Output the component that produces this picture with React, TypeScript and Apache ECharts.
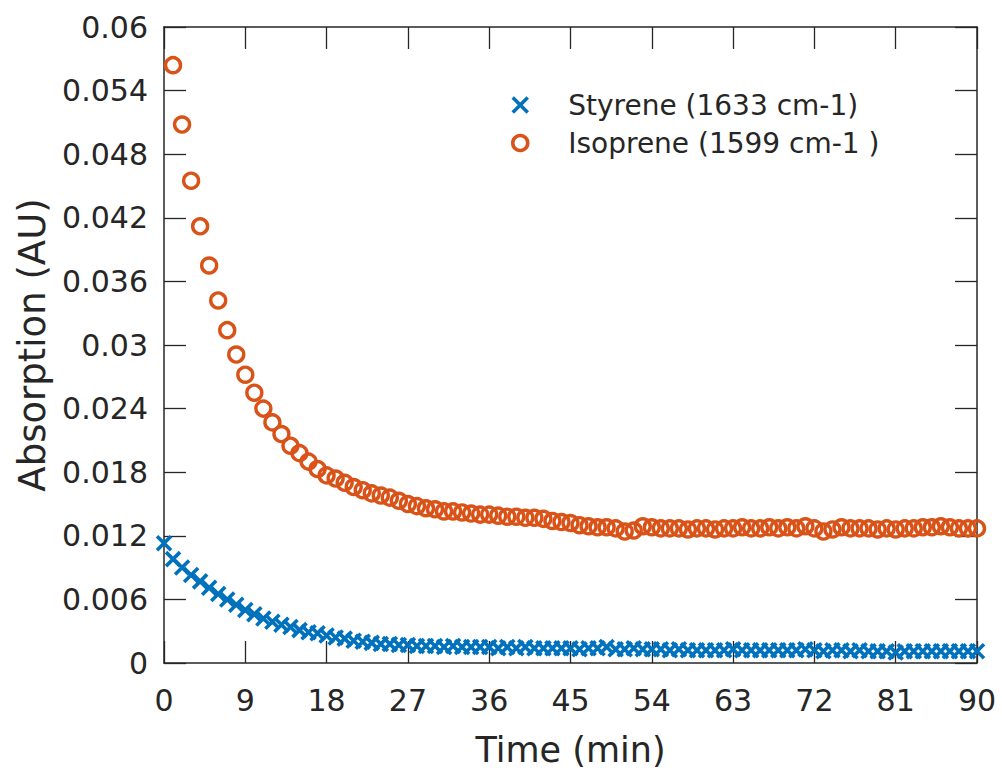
import React, { useEffect, useRef } from "react";
import * as echarts from "echarts";

const time = [
  0, 1, 2, 3, 4, 5, 6, 7, 8, 9, 10, 11, 12, 13, 14, 15, 16, 17, 18, 19, 20,
  21, 22, 23, 24, 25, 26, 27, 28, 29, 30, 31, 32, 33, 34, 35, 36, 37, 38, 39,
  40, 41, 42, 43, 44, 45, 46, 47, 48, 49, 50, 51, 52, 53, 54, 55, 56, 57, 58,
  59, 60, 61, 62, 63, 64, 65, 66, 67, 68, 69, 70, 71, 72, 73, 74, 75, 76, 77,
  78, 79, 80, 81, 82, 83, 84, 85, 86, 87, 88, 89, 90,
];

// Styrene (1633 cm-1), t = 0..90
const styrene = [
  0.0113, 0.0098, 0.009, 0.0083, 0.0077, 0.0071, 0.0065, 0.006, 0.0055, 0.005,
  0.0046, 0.0042, 0.0039, 0.0036, 0.0034, 0.0031, 0.0029, 0.0028, 0.0026,
  0.0024, 0.0023, 0.0021, 0.002, 0.0019, 0.0018, 0.0018, 0.0017, 0.0017,
  0.0016, 0.0016, 0.0016, 0.0015, 0.0016, 0.0015, 0.0015, 0.0015, 0.0015,
  0.0014, 0.0015, 0.0014, 0.0015, 0.0014, 0.0014, 0.0014, 0.0014, 0.0014,
  0.0013, 0.0014, 0.0014, 0.0015, 0.0013, 0.0013, 0.0014, 0.0013, 0.0013,
  0.0013, 0.0012, 0.0013, 0.0012, 0.0012, 0.0012, 0.0012, 0.0012, 0.0013,
  0.0012, 0.0012, 0.0012, 0.0012, 0.0012, 0.0012, 0.0012, 0.0013, 0.0012,
  0.0011, 0.0012, 0.0012, 0.0011, 0.0012, 0.0011, 0.0011, 0.0011, 0.001,
  0.0011, 0.0011, 0.0011, 0.0011, 0.0011, 0.0011, 0.0011, 0.0011, 0.0011,
];

// Isoprene (1599 cm-1), t = 1..90
const isoprene = [
  0.0564, 0.0508, 0.0455, 0.0412, 0.0375, 0.0342, 0.0314, 0.0291, 0.0272,
  0.0255, 0.024, 0.0227, 0.0216, 0.0205, 0.0198, 0.019, 0.0183, 0.0177,
  0.0174, 0.017, 0.0166, 0.0163, 0.016, 0.0158, 0.0156, 0.0153, 0.015,
  0.0148, 0.0146, 0.0145, 0.0143, 0.0143, 0.0142, 0.0141, 0.014, 0.014,
  0.0139, 0.0138, 0.0138, 0.0137, 0.0137, 0.0136, 0.0134, 0.0133, 0.0132,
  0.013, 0.0129, 0.0128, 0.0128, 0.0127, 0.0124, 0.0125, 0.0129, 0.0128,
  0.0127, 0.0127, 0.0127, 0.0126, 0.0127, 0.0127, 0.0126, 0.0127, 0.0127,
  0.0128, 0.0127, 0.0127, 0.0128, 0.0127, 0.0128, 0.0127, 0.0129, 0.0127,
  0.0124, 0.0126, 0.0128, 0.0127, 0.0127, 0.0127, 0.0126, 0.0127, 0.0126,
  0.0127, 0.0127, 0.0128, 0.0128, 0.0129, 0.0128, 0.0127, 0.0127, 0.0127,
];

const seriesNames = ["Styrene (1633 cm-1)", "Isoprene (1599 cm-1 )"];
const xTitle = "Time (min)";
const yTitle = "Absorption (AU)";

const BLUE = "#0072BD";
const ORANGE = "#D95319";
const AXIS = "#262626";
const FONT = "DejaVu Sans";
const XMARK = "path://M0,0L10,10M0,10L10,0";

export default function App() {
  const ref = useRef<HTMLDivElement>(null);
  useEffect(() => {
    if (!ref.current) return;
    const chart = echarts.init(ref.current, null, { renderer: "svg" });
    const styData = styrene.map((v, i) => [time[i], v]);
    const isoData = isoprene.map((v, i) => [time[i + 1], v]);
    const tickCommon = {
      show: true,
      inside: true,
      length: 22,
      lineStyle: { color: AXIS, width: 1.3 },
    };
    const axisLineCommon = { show: true, onZero: false, lineStyle: { color: AXIS, width: 1.5 } };
    chart.setOption({
      animation: false,
      backgroundColor: "#ffffff",
      grid: { left: 164, right: 25, top: 27, bottom: 106, containLabel: false },
      legend: {
        orient: "vertical",
        left: 506,
        top: 85,
        itemWidth: 86,
        itemHeight: 15,
        itemGap: 8,
        textStyle: { fontFamily: FONT, fontSize: 28, color: AXIS, lineHeight: 30 },
        data: [
          {
            name: seriesNames[0],
            icon: XMARK,
            itemStyle: { color: "rgba(0,0,0,0)", borderColor: BLUE, borderWidth: 3.5, opacity: 1 },
          },
          {
            name: seriesNames[1],
            icon: "circle",
            itemStyle: { color: "rgba(0,0,0,0)", borderColor: ORANGE, borderWidth: 3.5, opacity: 1 },
          },
        ],
      },
      xAxis: [
        {
          type: "value",
          min: 0,
          max: 90,
          interval: 9,
          position: "bottom",
          name: xTitle,
          nameLocation: "middle",
          nameGap: 69,
          nameTextStyle: { fontFamily: FONT, fontSize: 35, color: AXIS },
          axisLine: axisLineCommon,
          axisTick: tickCommon,
          splitLine: { show: false },
          axisLabel: { fontFamily: FONT, fontSize: 30, color: AXIS, margin: 22 },
        },
        {
          type: "value",
          min: 0,
          max: 90,
          interval: 9,
          position: "top",
          axisLine: axisLineCommon,
          axisTick: tickCommon,
          splitLine: { show: false },
          axisLabel: { show: false },
        },
      ],
      yAxis: [
        {
          type: "value",
          min: 0,
          max: 0.06,
          interval: 0.006,
          position: "left",
          name: yTitle,
          nameLocation: "middle",
          nameGap: 84,
          nameRotate: 90,
          nameTextStyle: { fontFamily: FONT, fontSize: 37, color: AXIS },
          axisLine: axisLineCommon,
          axisTick: tickCommon,
          splitLine: { show: false },
          axisLabel: {
            fontFamily: FONT,
            fontSize: 30,
            color: AXIS,
            margin: 16,
            formatter: (v: number) => String(parseFloat(v.toFixed(4))),
          },
        },
        {
          type: "value",
          min: 0,
          max: 0.06,
          interval: 0.006,
          position: "right",
          axisLine: axisLineCommon,
          axisTick: tickCommon,
          splitLine: { show: false },
          axisLabel: { show: false },
        },
      ],
      series: [
        {
          name: seriesNames[0],
          type: "scatter",
          xAxisIndex: 0,
          yAxisIndex: 0,
          symbol: XMARK,
          symbolSize: 14,
          itemStyle: { color: "rgba(0,0,0,0)", borderColor: BLUE, borderWidth: 3.6, opacity: 1 },
          data: styData,
          z: 3,
        },
        {
          name: seriesNames[1],
          type: "scatter",
          xAxisIndex: 0,
          yAxisIndex: 0,
          symbol: "circle",
          symbolSize: 15,
          itemStyle: { color: "rgba(0,0,0,0)", borderColor: ORANGE, borderWidth: 3.4, opacity: 1 },
          data: isoData,
          z: 2,
        },
      ],
    });
    return () => chart.dispose();
  }, []);
  return (
    <div
      ref={ref}
      style={{ position: "absolute", left: 0, top: 0, width: 1002, height: 772, background: "#fff" }}
    />
  );
}
